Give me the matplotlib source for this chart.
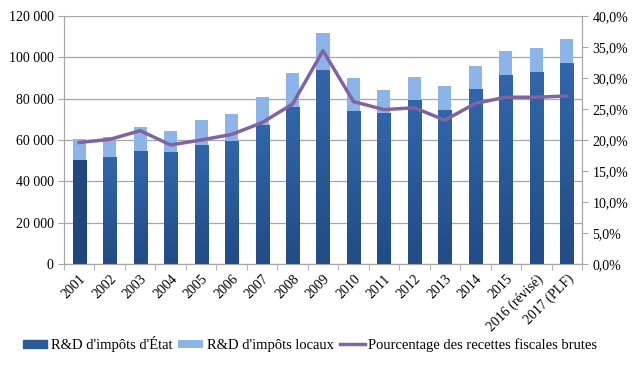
import numpy as np
import matplotlib.pyplot as plt
from matplotlib.colors import LinearSegmentedColormap
from matplotlib.ticker import FuncFormatter, FixedLocator

annees = ["2001", "2002", "2003", "2004", "2005", "2006", "2007", "2008", "2009",
          "2010", "2011", "2012", "2013", "2014", "2015", "2016 (révisé)", "2017 (PLF)"]
impots_etat = [50300, 51800, 54700, 54200, 57700, 59400, 67400, 76100, 94000,
               74000, 73100, 79300, 74700, 84800, 91400, 92900, 97100]
total = [60500, 61300, 66300, 64400, 69700, 72400, 80800, 92400, 111800,
         90000, 84200, 90500, 86100, 96000, 103100, 104500, 108900]
impots_locaux = [t - e for t, e in zip(total, impots_etat)]
pourcentage = [19.6, 20.1, 21.5, 19.2, 20.0, 20.9, 22.8, 25.8, 34.4,
               26.2, 24.9, 25.2, 23.2, 25.9, 26.9, 26.9, 27.1]

plt.rcParams['font.family'] = ['Liberation Serif', 'DejaVu Serif']
plt.rcParams['font.size'] = 10

fig = plt.figure(figsize=(6.39, 3.71), dpi=100)
ax = fig.add_axes([64 / 639, 107 / 371, 518 / 639, 248 / 371])
ax2 = ax.twinx()

x = np.arange(len(annees))
b1 = ax.bar(x, impots_etat, width=0.43, color="#2B5C9B", zorder=3,
            label="R&D d'impôts d'État")
b2 = ax.bar(x, impots_locaux, width=0.43, bottom=impots_etat, color="#8DB4E8",
            zorder=3, label="R&D d'impôts locaux")

# degrade vertical dans les barres bleues foncees
degrade = LinearSegmentedColormap.from_list("bleu", ["#214C84", "#3266AA"])
sombre = LinearSegmentedColormap.from_list("sombre", ["#1E467A", "#21497F"])
for i, barre in enumerate(b1.patches):
    bx, by = barre.get_x(), barre.get_y()
    w, h = barre.get_width(), barre.get_height()
    cmap = sombre if i == 0 else degrade
    im = ax.imshow(np.linspace(0, 1, 100).reshape(-1, 1), cmap=cmap, origin='lower',
                   extent=[bx, bx + w, by, by + h], aspect='auto', zorder=3)
    im.set_clip_path(barre)
    barre.set_facecolor('none')
    barre.set_edgecolor('none')

l1, = ax2.plot(x, pourcentage, color="#8064A2", lw=2.5, zorder=4,
               label="Pourcentage des recettes fiscales brutes")

ax.set_xlim(-0.5, len(annees) - 0.5)
ax.set_ylim(0, 120000)
ax.set_yticks(range(0, 120001, 20000))
ax.yaxis.set_major_formatter(FuncFormatter(lambda v, p: f"{int(v):,}".replace(",", " ")))
ax.grid(axis='y', color="#A6A6A6", lw=0.9, zorder=0)
ax.set_axisbelow(True)

ax2.set_ylim(0, 40)
ax2.set_yticks(np.arange(0, 40.1, 5))
ax2.yaxis.set_major_formatter(FuncFormatter(lambda v, p: f"{v:.1f}%".replace(".", ",")))

ax.set_xticks(x)
ax.set_xticklabels(annees, rotation=45, ha='right', rotation_mode='anchor')
ax.tick_params(axis='x', length=0, pad=6)
ax.xaxis.set_minor_locator(FixedLocator(np.arange(-0.5, len(annees), 1)))
ax.tick_params(axis='x', which='minor', length=4, color="#A6A6A6")
ax.tick_params(axis='y', length=4, color="#A6A6A6")
ax2.tick_params(axis='y', length=4, color="#A6A6A6")

for a in (ax, ax2):
    a.spines['top'].set_visible(False)
    for s in ('left', 'right', 'bottom'):
        a.spines[s].set_color("#A6A6A6")

handle_etat = plt.Rectangle((0, 0), 1, 1, color="#2A5A98")
fig.legend(handles=[handle_etat, b2, l1],
           labels=["R&D d'impôts d'État", "R&D d'impôts locaux",
                   "Pourcentage des recettes fiscales brutes"],
           loc='center', bbox_to_anchor=(0.485, 0.073),
           ncol=3, frameon=False, handlelength=1.7, handleheight=0.5,
           handletextpad=0.25, columnspacing=0.4, fontsize=10.5)

fig.savefig("out.png", dpi=100)
